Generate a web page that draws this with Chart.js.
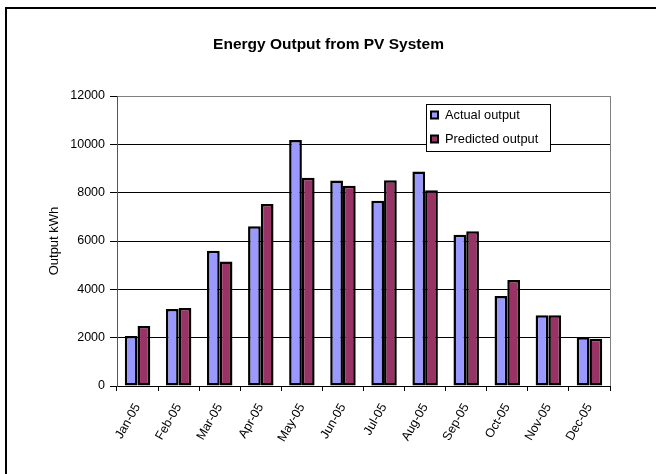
<!DOCTYPE html>
<html>
<head>
<meta charset="utf-8">
<script src="https://cdn.jsdelivr.net/npm/chart.js@4/dist/chart.umd.min.js"></script>
<style>
  html, body { margin: 0; padding: 0; background: #ffffff; }
  canvas { display: block; }
</style>
</head>
<body>
<canvas id="c" width="656" height="474"></canvas>
<script>
const categories = ['Jan-05','Feb-05','Mar-05','Apr-05','May-05','Jun-05','Jul-05','Aug-05','Sep-05','Oct-05','Nov-05','Dec-05'];
const actualOutput = [2070, 3190, 5600, 6610, 10180, 8500, 7670, 8880, 6260, 3720, 2930, 2020];
const predictedOutput = [2480, 3230, 5150, 7530, 8620, 8290, 8510, 8100, 6400, 4390, 2930, 1960];
const seriesNames = ['Actual output', 'Predicted output'];
const chartTitle = 'Energy Output from PV System';
const yAxisTitle = 'Output kWh';
const yMin = 0, yMax = 12000, yStep = 2000;

const FONT = '"Liberation Sans", Arial, sans-serif';

const framePlugin = {
  id: 'frame',
  beforeDraw(chart) {
    const ctx = chart.ctx;
    ctx.save();
    ctx.fillStyle = '#ffffff';
    ctx.fillRect(0, 0, chart.width, chart.height);
    ctx.strokeStyle = '#000000';
    ctx.lineWidth = 2;
    ctx.strokeRect(6, 8, chart.width + 20, chart.height + 20);
    ctx.restore();
  },
  afterDatasetsDraw(chart) {
    const ctx = chart.ctx;
    const a = chart.chartArea;
    ctx.save();
    ctx.strokeStyle = '#808080';
    ctx.lineWidth = 1;
    ctx.beginPath();
    ctx.moveTo(Math.round(a.right) + 0.5, a.top);
    ctx.lineTo(Math.round(a.right) + 0.5, a.bottom);
    ctx.stroke();
    ctx.restore();
  }
};

const boxLegend = {
  id: 'boxLegend',
  afterDraw(chart) {
    const ctx = chart.ctx;
    const bx = 426.5, by = 104.5, bw = 124, bh = 47;
    ctx.save();
    ctx.fillStyle = '#ffffff';
    ctx.fillRect(bx, by, bw, bh);
    ctx.strokeStyle = '#000000';
    ctx.lineWidth = 1;
    ctx.strokeRect(bx, by, bw, bh);
    ctx.font = '12.8px ' + FONT;
    ctx.textBaseline = 'middle';
    ctx.textAlign = 'left';
    const rows = [115, 139];
    chart.data.datasets.forEach((ds, i) => {
      const cy = rows[i];
      ctx.fillStyle = '#000000';
      ctx.fillRect(430, cy - 4.5, 9, 9);
      ctx.fillStyle = ds.backgroundColor;
      ctx.fillRect(432, cy - 2.5, 5, 5);
      ctx.fillStyle = '#000000';
      ctx.fillText(ds.label, 445, cy + 0.5);
    });
    ctx.restore();
  }
};

new Chart(document.getElementById('c'), {
  type: 'bar',
  data: {
    labels: categories,
    datasets: [
      { label: seriesNames[0], data: actualOutput, backgroundColor: '#9999FF', borderColor: '#000000', borderWidth: 2.5, borderSkipped: false },
      { label: seriesNames[1], data: predictedOutput, backgroundColor: '#993366', borderColor: '#000000', borderWidth: 2.5, borderSkipped: false }
    ]
  },
  options: {
    responsive: false,
    animation: false,
    devicePixelRatio: 1,
    datasets: { bar: { categoryPercentage: 0.62, barPercentage: 1.0 } },
    layout: { padding: { left: 47, right: 46, top: 0, bottom: 0 } },
    plugins: {
      legend: { display: false },
      tooltip: { enabled: false },
      title: {
        display: true,
        text: chartTitle,
        color: '#000000',
        font: { family: FONT, size: 15.5, weight: 'bold' },
        padding: { top: 35, bottom: 42.4 }
      }
    },
    scales: {
      x: {
        offset: true,
        grid: { display: true, offset: true, drawOnChartArea: false, drawTicks: true, tickLength: 5, tickColor: '#000000', color: '#000000' },
        border: { display: true, color: '#000000', width: 1 },
        ticks: { color: '#000000', font: { family: FONT, size: 12.5 }, minRotation: 60, maxRotation: 60, padding: 10, autoSkip: false },
        afterFit(scale) { scale.height = 88; }
      },
      y: {
        min: yMin, max: yMax,
        grid: {
          color: (c) => (c.tick && c.tick.value === yMax) ? '#808080' : '#000000',
          lineWidth: 1, drawTicks: true, tickLength: 7, tickColor: '#000000'
        },
        border: { display: true, color: '#555555', width: 1 },
        ticks: { stepSize: yStep, color: '#000000', font: { family: FONT, size: 12.5 }, padding: 5, callback: (v) => String(v) },
        title: { display: true, text: yAxisTitle, color: '#000000', font: { family: FONT, size: 13 }, padding: { top: 0, bottom: 0 } },
        afterFit(scale) { scale.width = 70; }
      }
    }
  },
  plugins: [framePlugin, boxLegend]
});
</script>
</body>
</html>
